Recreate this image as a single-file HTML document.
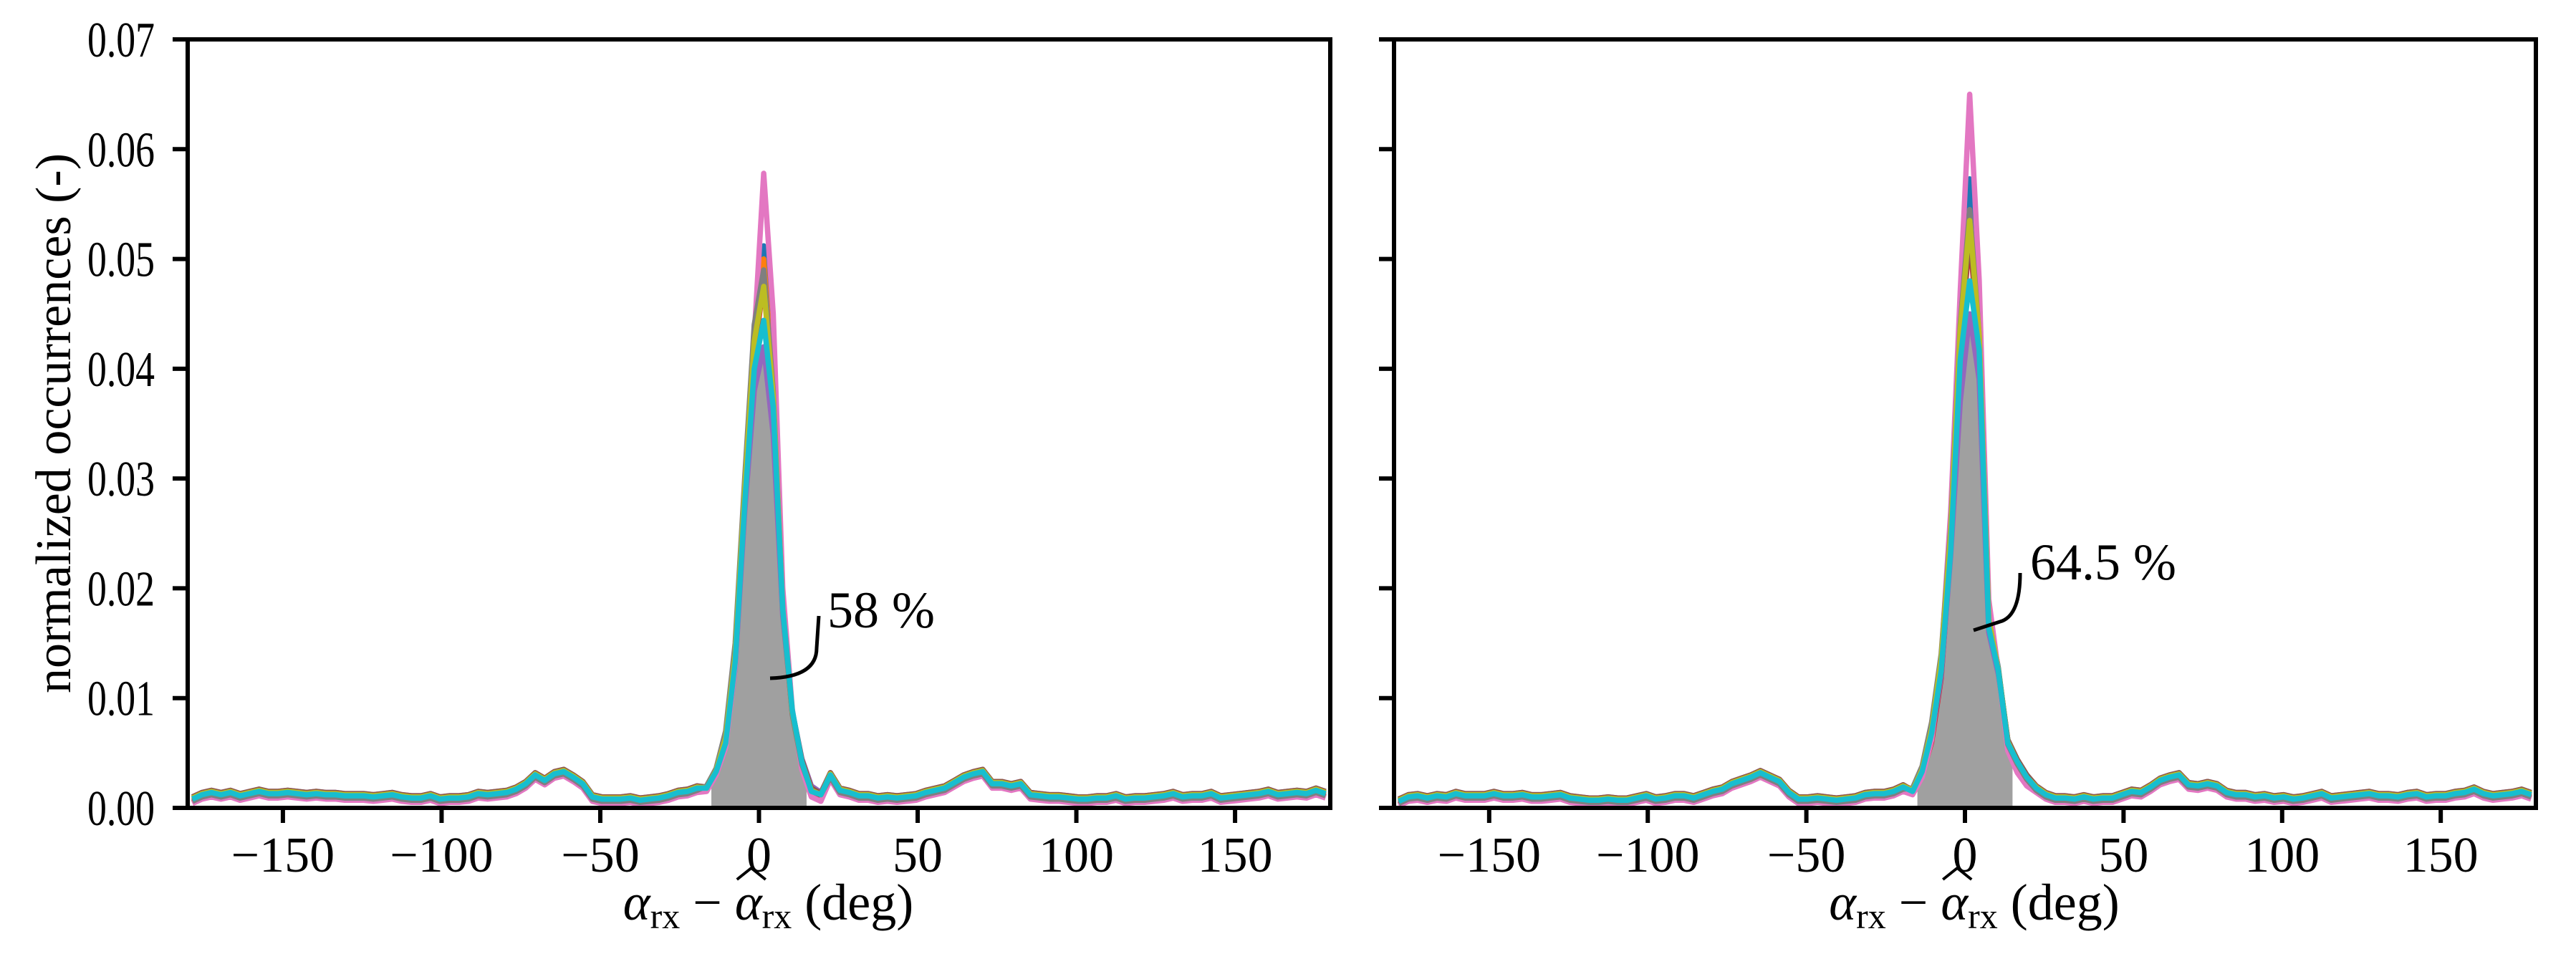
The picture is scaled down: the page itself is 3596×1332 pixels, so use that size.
<!DOCTYPE html>
<html><head><meta charset="utf-8"><style>
html,body{margin:0;padding:0;background:#fff;}
svg{display:block;font-family:"Liberation Serif",serif;}
</style></head><body>
<svg id="fig" width="3596" height="1332" viewBox="0 0 3596 1332" xmlns="http://www.w3.org/2000/svg"></svg>
<script>
// ---- data (values in units of 1e-4) ----
const seriesNames = ['blue','orange','green','red','purple','brown','pink','gray','olive','cyan'];
const seriesColors = ['#1f77b4','#ff7f0e','#2ca02c','#d62728','#9467bd','#8c564b','#e377c2','#7f7f7f','#bcbd22','#17becf'];
const tailOffsets = [0,-1,1,-3,2,2,-4,-2,1,0];
const xTicks = [-150,-100,-50,0,50,100,150];
const yTicks = [0,0.01,0.02,0.03,0.04,0.05,0.06,0.07];
const yTickLabels = ['0.00','0.01','0.02','0.03','0.04','0.05','0.06','0.07'];
const centerBins = [-16.5,-13.5,-10.5,-7.5,-4.5,-1.5,1.5,4.5,7.5,10.5,13.5,16.5,19.5];
const annotLabels = ['58 %','64.5 %'];

const leftTailA = [8,12,14,12,14,11,13,15,13,13,14,13,12,13,12,12,11,11,11,10,11,12,10,9,9,11,8,9,9,10,13,12,13,14,17,22,30,25,31,33,28,22,10,8,8,8,9,7,8,9,11,14,15,18];
const rightTailA = [30,16,14,11,11,9,10,9,10,11,14,16,18,23,28,31,33,22,22,20,22,12,11,10,10,9,8,8,9,9,11,8,9,9,10,11,13,10,11,11,13,9,10,11,12,13,15,12,13,14,13,16,13];
const centerA = [
  [18,33,60,135,285,420,512,390,185,88,42,16,12],
  [18,33,62,138,288,425,500,385,183,88,42,16,12],
  [18,34,60,132,280,415,485,380,182,88,43,18,13],
  [17,32,58,130,278,412,480,375,180,86,40,14,10],
  [18,33,58,128,270,380,420,340,175,88,45,20,14],
  [19,34,62,134,282,418,488,380,182,88,44,18,13],
  [15,30,55,130,290,430,578,450,200,90,35,10,6],
  [20,36,70,150,300,440,490,380,180,85,40,16,12],
  [18,34,64,140,290,425,475,375,182,88,42,16,12],
  [18,33,59,133,277,400,444,365,181,89,42,15,12]
];
const leftTailB = [6,10,11,9,11,10,13,11,11,11,13,11,11,12,10,10,11,12,9,8,7,7,8,7,7,9,11,8,9,11,11,9,12,15,17,22,25,28,32,28,24,14,8,8,9,8,7,8,9,12,13,13,15,19];
const rightTailB = [18,12,9,9,8,10,8,9,9,12,15,14,19,25,28,30,21,20,22,20,14,12,12,10,11,9,10,8,9,11,13,9,10,11,12,13,11,11,10,12,13,10,11,11,13,14,17,13,11,12,13,15,12];
const centerB = [
  [16,34,70,130,245,430,573,440,175,128,60,42,28],
  [16,34,70,130,245,428,540,430,172,126,60,42,28],
  [17,35,70,128,240,425,530,425,170,126,62,44,30],
  [14,30,60,118,235,420,520,420,168,124,58,40,26],
  [15,32,64,120,230,370,450,390,160,122,62,44,30],
  [16,34,66,124,240,425,525,425,170,126,62,44,30],
  [12,28,62,135,270,470,650,480,190,125,52,32,20],
  [18,38,78,140,255,440,545,430,172,125,58,40,26],
  [16,35,72,135,250,435,535,430,172,126,60,42,28],
  [15,33,68,125,234,408,480,417,164,125,59,42,28]
];

// ---- layout ----
const NS='http://www.w3.org/2000/svg';
const svg=document.getElementById('fig');
const Y0=1128, Y1=55;
const FS=70;
const panels=[{x0:262,x1:1857,lt:leftTailA,rt:rightTailA,ct:centerA,name:'left-panel',
   annot:{path:'M1075,947 Q1140,945 1140,905 L1143,860',tx:1155,ty:876,label:annotLabels[0]}},
  {x0:1946,x1:3540,lt:leftTailB,rt:rightTailB,ct:centerB,name:'right-panel',
   annot:{path:'M2755,880 L2795,867 Q2820,857 2820,800',tx:2834,ty:809,label:annotLabels[1]}}];

function el(tag,attrs,parent){const e=document.createElementNS(NS,tag);for(const k in attrs)e.setAttribute(k,attrs[k]);(parent||svg).appendChild(e);return e;}

panels.forEach((p,pi)=>{
  const sx=v=>p.x0+(v+180)/360*(p.x1-p.x0);
  const sy=v=>Y0-v/0.07*(Y0-Y1);
  const g=el('g',{});
  
  
  const clipId='clip'+pi;
  const cp=el('clipPath',{id:clipId},g);
  el('rect',{x:p.x0,y:Y1,width:p.x1-p.x0,height:Y0-Y1},cp);
  const plot=el('g',{'clip-path':'url(#'+clipId+')'},g);
  const all=[];
  for(let s=0;s<10;s++){
    const pts=[];
    p.lt.forEach((v,i)=>pts.push([-178.5+3*i,(v+tailOffsets[s])*1e-4]));
    p.ct[s].forEach((v,i)=>pts.push([centerBins[i],v*1e-4]));
    p.rt.forEach((v,i)=>pts.push([22.5+3*i,(v+tailOffsets[s])*1e-4]));
    all.push(pts);
  }
  const base=all[4];
  const interp=x=>{for(let i=0;i<base.length-1;i++){if(base[i][0]<=x&&base[i+1][0]>=x){const t=(x-base[i][0])/(base[i+1][0]-base[i][0]);return base[i][1]+t*(base[i+1][1]-base[i][1]);}}return 0;};
  let d='M'+sx(-15)+','+sy(0)+' L'+sx(-15)+','+sy(interp(-15));
  base.forEach(pt=>{if(pt[0]>-15&&pt[0]<15)d+=' L'+sx(pt[0]).toFixed(1)+','+sy(pt[1]).toFixed(1);});
  d+=' L'+sx(15)+','+sy(interp(15))+' L'+sx(15)+','+sy(0)+' Z';
  const f=el('path',{d:d,fill:'#a0a0a0'},plot);
  
  
  all.forEach((pts,s)=>{
    const dd=pts.map((pt,i)=>(i?'L':'M')+sx(pt[0]).toFixed(1)+','+sy(pt[1]).toFixed(1)).join(' ');
    const ln=el('path',{d:dd,fill:'none',stroke:seriesColors[s],'stroke-width':7.5,'stroke-linejoin':'round'},plot);
    
    
  });
  const fr=el('rect',{x:p.x0,y:Y1,width:p.x1-p.x0,height:Y0-Y1,fill:'none',stroke:'#000','stroke-width':6},g);
  
  
  xTicks.forEach(t=>{
    const x=sx(t);
    el('line',{x1:x,x2:x,y1:Y0,y2:Y0+21,stroke:'#000','stroke-width':6},g);
    const tx=el('text',{x:x,y:1217,'font-size':FS,'text-anchor':'middle'},g);
    tx.textContent=(t<0?'\u2212':'')+Math.abs(t);
    
    
  });
  yTicks.forEach((t,i)=>{
    const y=sy(t);
    el('line',{x1:p.x0-21,x2:p.x0,y1:y,y2:y,stroke:'#000','stroke-width':6},g);
    if(pi===0){
      const ty=el('text',{x:216,y:y+24,'font-size':FS,'text-anchor':'end',textLength:94,lengthAdjust:'spacingAndGlyphs'},g);
      ty.textContent=yTickLabels[i];
      
      
    }
  });
  const cx=(p.x0+p.x1)/2+13;
  const xl=el('text',{x:cx,y:1284,'font-size':FS+2,'text-anchor':'middle'},g);
  
  
  xl.innerHTML='<tspan font-style="italic">α</tspan><tspan font-size="50" dy="12">rx</tspan><tspan dy="-12"> − </tspan><tspan font-style="italic">α</tspan><tspan font-size="50" dy="12">rx</tspan><tspan dy="-12"> (deg)</tspan>';
  let hx=cx;
  try{const b=xl.getExtentOfChar(6);hx=b.x+b.width/2+4;}catch(e){}
  el('path',{d:'M'+(hx-20)+',1228 L'+hx+',1212 L'+(hx+20)+',1228',fill:'none',stroke:'#000','stroke-width':4},g);
  const ap=el('path',{d:p.annot.path,fill:'none',stroke:'#000','stroke-width':5},g);
  
  
  const at=el('text',{x:p.annot.tx,y:p.annot.ty,'font-size':FS+2},g);
  at.textContent=p.annot.label;
  
  
});
const yl=el('text',{x:0,y:0,'font-size':FS,'text-anchor':'middle',transform:'translate(98,591) rotate(-90)'});
yl.textContent='normalized occurrences (-)';


</script>
</body></html>
